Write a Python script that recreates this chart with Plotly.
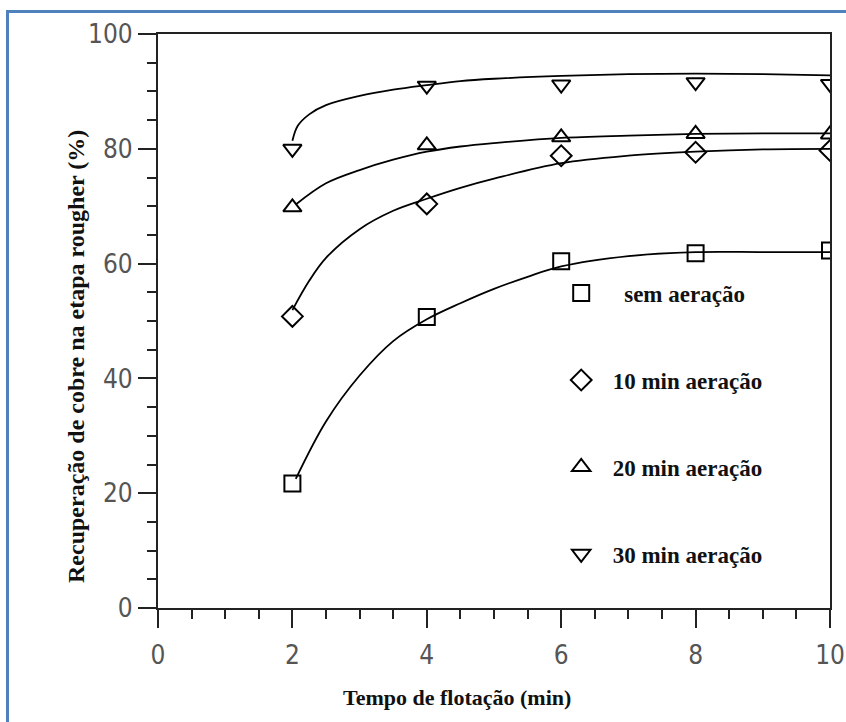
import plotly.graph_objects as go

# ---- data: measured points ----
tempo = [2, 4, 6, 8, 10]
sem_aeracao = [21.7, 50.7, 60.4, 61.8, 62.3]
aeracao_10 = [50.8, 70.4, 78.8, 79.4, 79.7]
aeracao_20 = [69.8, 80.6, 82.0, 82.6, 82.5]
aeracao_30 = [80.0, 91.0, 91.2, 91.6, 91.3]

# ---- data: fitted curves ----
curva_sem_x = [2.05, 2.5, 3.0, 3.5, 4.0, 4.5, 5.0, 5.5, 6.0, 7.0, 8.0, 9.0, 10]
curva_sem_y = [22.5, 32.5, 40.5, 46.5, 50.3, 53.1, 55.6, 57.7, 59.5, 61.3, 62.0, 62.0, 62.0]
curva_10_x = [2.0, 2.25, 2.5, 3.0, 3.5, 4.0, 4.5, 5.0, 6.0, 7.0, 8.0, 9.0, 10]
curva_10_y = [51.9, 57.0, 61.0, 66.0, 69.2, 71.3, 73.2, 74.8, 77.5, 78.8, 79.5, 79.9, 80.0]
curva_20_x = [2.05, 2.5, 3.0, 3.5, 4.0, 4.5, 5.0, 6.0, 7.0, 8.0, 9.0, 10]
curva_20_y = [70.3, 74.0, 76.3, 78.1, 79.5, 80.4, 81.0, 81.9, 82.3, 82.6, 82.7, 82.7]
curva_30_x = [2.0, 2.08, 2.25, 2.5, 3.0, 3.5, 4.0, 4.5, 5.0, 6.0, 7.0, 8.0, 9.0, 10]
curva_30_y = [81.4, 84.0, 86.0, 87.6, 89.2, 90.3, 91.1, 91.8, 92.2, 92.7, 93.0, 93.1, 93.0, 92.8]

series = [
    ("\u00a0\u00a0\u00a0 sem aeração", sem_aeracao, "square-open", curva_sem_x, curva_sem_y),
    ("\u00a0\u00a010 min aeração", aeracao_10, "diamond-open", curva_10_x, curva_10_y),
    ("\u00a0\u00a020 min aeração", aeracao_20, "triangle-up-open", curva_20_x, curva_20_y),
    ("\u00a0\u00a030 min aeração", aeracao_30, "triangle-down-open", curva_30_x, curva_30_y),
]

x_ticks = [0, 2, 4, 6, 8, 10]
y_ticks = [0, 20, 40, 60, 80, 100]

fig = go.Figure()
for i, (name, vals, sym, cx, cy) in enumerate(series):
    fig.add_trace(go.Scatter(
        x=cx, y=cy, mode="lines",
        line=dict(color="black", width=1.8, shape="spline", smoothing=1.0),
        showlegend=False, hoverinfo="skip"))
    fig.add_trace(go.Scatter(
        x=tempo, y=vals, mode="markers", name=name, legendgroup=str(i),
        marker=dict(symbol=sym, size=16, color="black", line=dict(width=2, color="black"))))

serif = "Liberation Serif, Times New Roman, serif"
narrow = "DejaVu Sans Condensed, Liberation Sans Narrow, Arial Narrow, sans-serif"

L, R, T, B = 158, 16, 34, 114
W, H = 846, 722

tickfont = dict(family=narrow, size=26, color="#555")

fig.update_layout(
    width=W, height=H,
    margin=dict(l=L, r=R, t=T, b=B, autoexpand=False),
    paper_bgcolor="white", plot_bgcolor="white",
    showlegend=True,
    legend=dict(x=0.6, y=0.586, xanchor="left", yanchor="top",
                font=dict(family=serif, size=23, color="#111", weight="bold"),
                tracegroupgap=54, bgcolor="rgba(0,0,0,0)"),
    xaxis=dict(range=[0, 10], tickvals=x_ticks, ticks="outside", ticklen=18, tickwidth=1.8,
               tickcolor="#222", showline=True, linecolor="#222", linewidth=2.2, mirror=True,
               showgrid=False, zeroline=False, automargin=False, ticklabeloverflow="allow",
               tickfont=tickfont, ticklabelstandoff=5,
               minor=dict(dtick=0.5, ticks="outside", ticklen=9, tickwidth=1.8, tickcolor="#222", showgrid=False)),
    yaxis=dict(range=[0, 100], tickvals=y_ticks, ticks="outside", ticklen=18, tickwidth=1.8,
               tickcolor="#222", showline=True, linecolor="#222", linewidth=2.2, mirror=True,
               showgrid=False, zeroline=False, automargin=False,
               tickfont=tickfont, ticklabelstandoff=0,
               minor=dict(dtick=5, ticks="outside", ticklen=9, tickwidth=1.8, tickcolor="#222", showgrid=False)),
)

pw, ph = W - L - R, H - T - B
def px(xp):
    return (xp - L) / pw
def py(yp):
    return (H - B - yp) / ph

fig.add_annotation(text="Tempo de flotação (min)", xref="paper", yref="paper",
                   x=px(457), y=py(697), xanchor="center", yanchor="middle", showarrow=False,
                   font=dict(family=serif, size=22, color="#111", weight="bold"))
fig.add_annotation(text="Recuperação de cobre na etapa rougher (%)", xref="paper", yref="paper",
                   x=px(76), y=py(357), xanchor="center", yanchor="middle", showarrow=False, textangle=-90,
                   font=dict(family=serif, size=24, color="#111", weight="bold"))

post = (
    "document.body.style.margin='0';"
    "document.body.style.overflow='hidden';"
    "var b=document.createElement('div');"
    "b.style.cssText='position:fixed;left:6px;top:10px;width:1000px;height:1000px;"
    "border-top:3px solid #4F81BD;border-left:3px solid #4F81BD;pointer-events:none;z-index:10;';"
    "document.body.appendChild(b);"
)

fig.write_html("out.html", config={"displayModeBar": False}, post_script=post)
